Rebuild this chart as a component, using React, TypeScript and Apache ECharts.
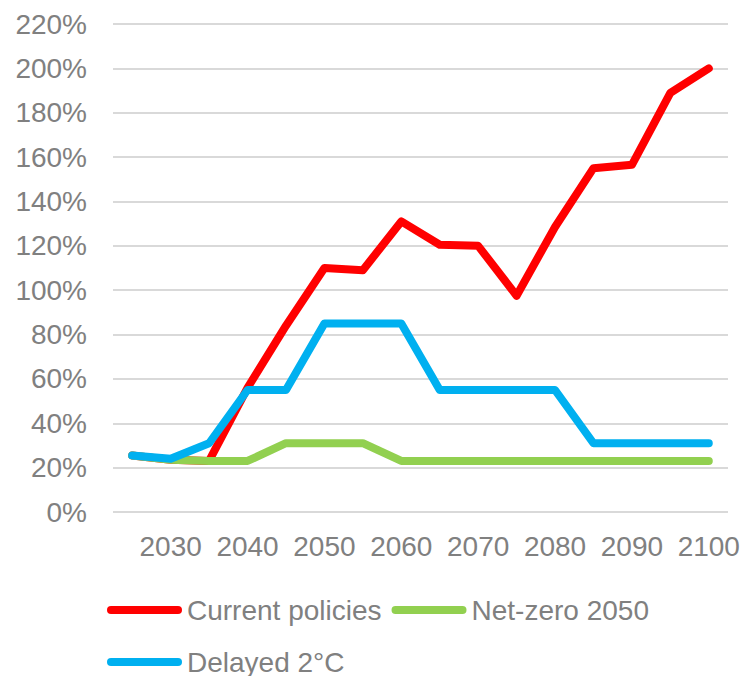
import React, { useEffect, useRef } from "react";
import * as echarts from "echarts";

const years = ["2025","2030","2035","2040","2045","2050","2055","2060","2065","2070","2075","2080","2085","2090","2095","2100"];
const currentPolicies = [25.5, 23.5, 23, 56, 84, 110, 109, 131, 120.5, 120, 97.5, 128.5, 155, 156.5, 189, 200];
const netZero2050 = [25.5, 23.5, 23, 23, 31, 31, 31, 23, 23, 23, 23, 23, 23, 23, 23, 23];
const delayed2C = [25.5, 24, 31, 55, 55, 85, 85, 85, 55, 55, 55, 55, 31, 31, 31, 31];
const seriesNames = ["Current policies", "Net-zero 2050", "Delayed 2°C"];
const seriesColors = ["#FF0000", "#92D050", "#00B0F0"];

const FONT = "'Liberation Sans', Arial, sans-serif";

export default function App() {
  const ref = useRef<HTMLDivElement>(null);
  useEffect(() => {
    if (!ref.current) return;
    const chart = echarts.init(ref.current, null, { renderer: "svg" });
    const datasets = [currentPolicies, netZero2050, delayed2C];
    chart.setOption({
      animation: false,
      grid: { left: 113, right: 21, top: 24, bottom: 164, containLabel: false },
      legend: {
        left: 107,
        top: 589,
        width: 600,
        padding: 0,
        itemWidth: 75,
        itemHeight: 8,
        itemGap: 10,
        icon: "path://M4 0H71A4 4 0 0 1 71 8H4A4 4 0 0 1 4 0Z",
        textStyle: { fontSize: 28, color: "#808080", fontFamily: FONT, lineHeight: 42 },
        data: seriesNames,
      },
      xAxis: {
        type: "category",
        data: years,
        boundaryGap: true,
        axisLine: { show: false },
        axisTick: { show: false },
        axisLabel: {
          interval: (i: number) => i % 2 === 1,
          fontSize: 28,
          color: "#808080",
          fontFamily: FONT,
          margin: 20,
        },
      },
      yAxis: {
        type: "value",
        min: 0,
        max: 220,
        interval: 20,
        axisLine: { show: false },
        axisTick: { show: false },
        axisLabel: {
          formatter: "{value}%",
          fontSize: 28,
          color: "#808080",
          fontFamily: FONT,
          margin: 26,
        },
        splitLine: { lineStyle: { color: "#d9d9d9", width: 2 } },
      },
      series: seriesNames.map((name, i) => ({
        name,
        type: "line",
        data: datasets[i],
        symbol: "none",
        itemStyle: { color: seriesColors[i] },
        lineStyle: { color: seriesColors[i], width: 8, cap: "round", join: "round" },
      })),
    });
    return () => chart.dispose();
  }, []);
  return (
    <div
      ref={ref}
      style={{ position: "fixed", left: 0, top: 0, width: 749, height: 676, background: "#fff" }}
    />
  );
}
